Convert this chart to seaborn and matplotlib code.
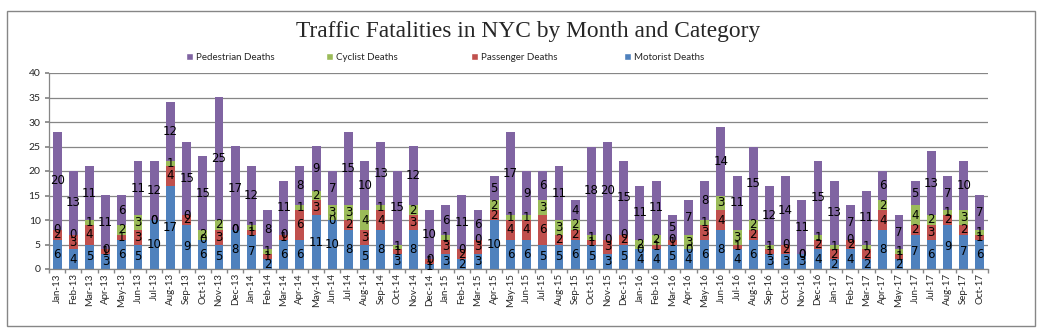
import matplotlib
matplotlib.use("Agg")
import matplotlib.pyplot as plt
import seaborn as sns
import numpy as np
import pandas as pd
from matplotlib.patches import Rectangle, Patch

months = ["Jan-13","Feb-13","Mar-13","Apr-13","May-13","Jun-13","Jul-13","Aug-13","Sep-13","Oct-13","Nov-13","Dec-13",
          "Jan-14","Feb-14","Mar-14","Apr-14","May-14","Jun-14","Jul-14","Aug-14","Sep-14","Oct-14","Nov-14","Dec-14",
          "Jan-15","Feb-15","Mar-15","Apr-15","May-15","Jun-15","Jul-15","Aug-15","Sep-15","Oct-15","Nov-15","Dec-15",
          "Jan-16","Feb-16","Mar-16","Apr-16","May-16","Jun-16","Jul-16","Aug-16","Sep-16","Oct-16","Nov-16","Dec-16",
          "Jan-17","Feb-17","Mar-17","Apr-17","May-17","Jun-17","Jul-17","Aug-17","Sep-17","Oct-17"]

motorist = [6,4,5,3,6,5,10,17,9,6,5,8,
            7,2,6,6,11,10,8,5,8,3,8,1,
            3,2,3,10,6,6,5,5,6,5,3,5,
            4,4,5,4,6,8,4,6,3,3,3,4,
            2,4,2,8,2,7,6,9,7,6]
passenger = [2,3,4,1,1,3,0,4,2,0,3,0,
             1,1,1,6,3,0,2,3,4,1,3,1,
             3,2,3,2,4,4,6,2,2,1,3,2,
             0,1,1,0,3,4,1,2,1,2,0,2,
             2,2,2,4,1,2,3,2,2,1]
cyclist = [0,0,1,0,2,3,0,1,0,2,2,0,
           1,1,0,1,2,3,3,4,1,1,2,0,
           1,0,0,2,1,1,3,3,2,1,0,0,
           2,2,0,3,1,3,3,2,1,0,0,1,
           1,0,1,2,1,4,2,1,3,1]
pedestrian = [20,13,11,11,6,11,12,12,15,15,25,17,
              12,8,11,8,9,7,15,10,13,15,12,10,
              6,11,6,5,17,9,6,11,4,18,20,15,
              11,11,5,7,8,14,11,15,12,14,11,15,
              13,7,11,6,7,5,13,7,10,7]

series_names = ["Motorist Deaths", "Passenger Deaths", "Cyclist Deaths", "Pedestrian Deaths"]
series_vals = [motorist, passenger, cyclist, pedestrian]
colors = ["#4F81BD", "#C0504D", "#9BBB59", "#8064A2"]

sns.set_theme(style="white")
plt.rcParams['font.family'] = ['Lato', 'DejaVu Sans']

fig = plt.figure(figsize=(10.5, 3.35), dpi=100)
fig.patch.set_facecolor("white")
ax = fig.add_axes([49/1050, 1-269/335, (988-49)/1050, (269-73)/335])

bottom = np.zeros(len(months))
for name, vals, col in zip(series_names, series_vals, colors):
    df = pd.DataFrame({"month": months, "v": vals})
    sns.barplot(data=df, x="month", y="v", color=col, bottom=bottom.copy(),
                width=0.55, ax=ax, saturation=1, linewidth=0, errorbar=None)
    bottom += np.array(vals)
if ax.get_legend() is not None:
    ax.get_legend().remove()

for cont in ax.containers:
    ax.bar_label(cont, labels=[str(int(round(b.get_height()))) for b in cont],
                 label_type="center", fontsize=8.5, color="black", family="DejaVu Sans")

ax.set_ylim(0, 40)
ax.set_xlim(-0.5, len(months) - 0.5)
ax.set_yticks(range(0, 41, 5))
ax.yaxis.grid(True, color="#868686", linewidth=0.9)
ax.set_axisbelow(True)
ax.set_xlabel("")
ax.set_ylabel("")
for s in ["top", "right"]:
    ax.spines[s].set_visible(False)
for s in ["left", "bottom"]:
    ax.spines[s].set_color("#868686")
    ax.spines[s].set_linewidth(0.9)
ax.tick_params(axis="y", labelsize=7.5, length=3, color="#868686", left=True, pad=3)
ax.set_xticks(np.arange(len(months)))
ax.set_xticklabels(months, rotation=90, fontsize=7)
ax.set_xticks(np.arange(len(months) + 1) - 0.5, minor=True)
ax.tick_params(axis="x", which="major", length=0, pad=3)
ax.tick_params(axis="x", which="minor", length=3, color="#868686", bottom=True)

fig.text(528/1050, 1-31/335, "Traffic Fatalities in NYC by Month and Category",
         ha="center", va="center", fontsize=16.8, family="Liberation Serif")

legend_x = [186, 326, 471, 624]
for n, c, lx in zip(series_names[::-1], colors[::-1], legend_x):
    fig.legend(handles=[Patch(facecolor=c, label=n)], loc="center left",
               bbox_to_anchor=(lx/1050, 1-57/335), frameon=False, fontsize=7,
               handlelength=0.7, handleheight=0.7, handletextpad=0.3, borderpad=0, borderaxespad=0)

fig.add_artist(Rectangle((7/1050, 1-326/335), (1035-7)/1050, (326-11)/335, transform=fig.transFigure,
                         fill=False, edgecolor="#868686", linewidth=1))

fig.savefig("out.png", dpi=100, facecolor="white")
